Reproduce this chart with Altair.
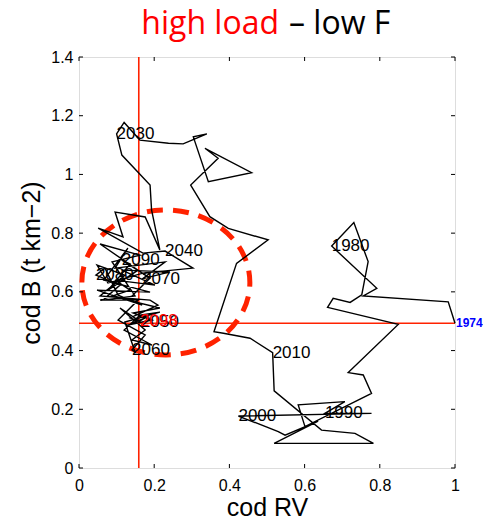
import altair as alt
import pandas as pd

# trajectory (cod RV, cod B), 1974 -> 2098
path_x = [1.0, 0.982, 0.756, 0.792, 0.672, 0.731, 0.769, 0.752, 0.721, 0.676,
          0.661, 0.849, 0.716, 0.756, 0.778, 0.601, 0.583, 0.707, 0.654, 0.778,
          0.424, 0.530, 0.548, 0.636, 0.519, 0.783, 0.734, 0.645, 0.519, 0.515,
          0.455, 0.384, 0.359, 0.419, 0.503, 0.397, 0.348, 0.297, 0.370, 0.335,
          0.459, 0.344, 0.304, 0.340, 0.277, 0.238, 0.162, 0.120, 0.100, 0.114,
          0.189, 0.193, 0.215, 0.176, 0.096, 0.117, 0.051, 0.170, 0.229, 0.303,
          0.170, 0.077, 0.048, 0.122, 0.056, 0.189, 0.210, 0.136, 0.165, 0.109,
          0.176, 0.141, 0.194, 0.120, 0.162, 0.215, 0.122, 0.149, 0.141, 0.176,
          0.104, 0.157, 0.056, 0.136, 0.096, 0.202, 0.114, 0.242, 0.168, 0.229,
          0.096, 0.130, 0.066, 0.189, 0.048, 0.168, 0.104, 0.069, 0.045, 0.109,
          0.064, 0.149, 0.088, 0.162, 0.056, 0.157, 0.077, 0.136, 0.114, 0.189,
          0.130, 0.215, 0.144, 0.194, 0.130, 0.176, 0.162]
path_y = [0.493, 0.566, 0.586, 0.612, 0.756, 0.836, 0.703, 0.590, 0.564, 0.578,
          0.547, 0.489, 0.325, 0.317, 0.254, 0.141, 0.215, 0.226, 0.186, 0.186,
          0.177, 0.124, 0.112, 0.160, 0.084, 0.084, 0.118, 0.129, 0.263, 0.393,
          0.442, 0.459, 0.464, 0.697, 0.777, 0.816, 0.856, 0.964, 1.055, 1.089,
          1.006, 0.975, 1.128, 1.138, 1.104, 1.106, 1.117, 1.177, 1.138, 1.066,
          0.964, 0.879, 0.743, 0.855, 0.872, 0.787, 0.817, 0.732, 0.739, 0.681,
          0.664, 0.630, 0.691, 0.657, 0.586, 0.572, 0.555, 0.511, 0.497, 0.545,
          0.470, 0.436, 0.419, 0.470, 0.521, 0.531, 0.497, 0.395, 0.402, 0.453,
          0.504, 0.572, 0.572, 0.606, 0.640, 0.623, 0.674, 0.668, 0.644, 0.702,
          0.681, 0.749, 0.640, 0.599, 0.606, 0.555, 0.589, 0.681, 0.657, 0.623,
          0.572, 0.586, 0.702, 0.725, 0.763, 0.674, 0.606, 0.695, 0.708, 0.647,
          0.572, 0.545, 0.528, 0.504, 0.487, 0.511, 0.501]

# decade labels
label_text = ["1980", "1990", "2000", "2010", "2030", "2040", "2050",
              "2060", "2070", "2080", "2090"]
label_x = [0.672, 0.654, 0.424, 0.515, 0.100, 0.229, 0.165, 0.141, 0.168, 0.045, 0.114]
label_y = [0.756, 0.186, 0.177, 0.393, 1.138, 0.739, 0.497, 0.402, 0.644, 0.657, 0.708]

start_label = ["1974"]
start_x = [1.0]
start_y = [0.493]
end_label = ["2098"]
end_x = [0.162]
end_y = [0.501]

# reference lines and highlighted region
ref_x = [0.159]
ref_y = [0.493]
circle_cx = [0.231]
circle_cy = [0.632]

x_ticks = [0, 0.2, 0.4, 0.6, 0.8, 1]
y_ticks = [0, 0.2, 0.4, 0.6, 0.8, 1, 1.2, 1.4]

FONT = "Liberation Sans"
RED = "#ff2200"

path_df = pd.DataFrame({"x": path_x, "y": path_y, "o": list(range(len(path_x)))})
lab_df = pd.DataFrame({"x": label_x, "y": label_y, "t": label_text})
start_df = pd.DataFrame({"x": start_x, "y": start_y, "t": start_label})
end_df = pd.DataFrame({"x": end_x, "y": end_y, "t": end_label})

xs = alt.Scale(domain=[0, 1], nice=False, zero=False)
ys = alt.Scale(domain=[0, 1.4], nice=False, zero=False)

x_axis = alt.Axis(values=x_ticks, format="~g", title="cod RV", ticks=False, grid=False,
                  domain=False, labelFont=FONT, labelFontSize=16, labelPadding=9,
                  labelFlush=False, labelColor="black", titleFont=FONT, titleFontSize=25,
                  titleFontWeight="normal", titleColor="black", titleBaseline="alphabetic",
                  titlePadding=22)
y_axis = alt.Axis(values=y_ticks, format="~g", title="cod B (t km\u22122)", ticks=False,
                  grid=False, domain=False, labelFont=FONT, labelFontSize=16, labelPadding=6,
                  labelFlush=False, labelColor="black", titleFont=FONT, titleFontSize=25,
                  titleFontWeight="normal", titleColor="black", titlePadding=6)

line = alt.Chart(path_df).mark_line(color="black", strokeWidth=1.4).encode(
    x=alt.X("x:Q", scale=xs, axis=x_axis),
    y=alt.Y("y:Q", scale=ys, axis=y_axis),
    order="o:Q",
)

# inward tick marks on all four sides of the box
tlx = 0.0106
tly = 0.0136
bt = pd.DataFrame({"x": x_ticks, "y0": [0] * len(x_ticks), "y1": [tly] * len(x_ticks)})
tt = pd.DataFrame({"x": x_ticks, "y0": [1.4] * len(x_ticks), "y1": [1.4 - tly] * len(x_ticks)})
lt = pd.DataFrame({"y": y_ticks, "x0": [0] * len(y_ticks), "x1": [tlx] * len(y_ticks)})
rt = pd.DataFrame({"y": y_ticks, "x0": [1] * len(y_ticks), "x1": [1 - tlx] * len(y_ticks)})
tick_b = alt.Chart(pd.concat([bt, tt])).mark_rule(color="black", strokeWidth=1).encode(
    x=alt.X("x:Q", scale=xs), y=alt.Y("y0:Q", scale=ys), y2="y1:Q")
tick_l = alt.Chart(pd.concat([lt, rt])).mark_rule(color="black", strokeWidth=1).encode(
    y=alt.Y("y:Q", scale=ys), x=alt.X("x0:Q", scale=xs), x2="x1:Q")

vrule = alt.Chart(pd.DataFrame({"x": ref_x})).mark_rule(color=RED, strokeWidth=1.6).encode(
    x=alt.X("x:Q", scale=xs))
hrule = alt.Chart(pd.DataFrame({"y": ref_y})).mark_rule(color=RED, strokeWidth=1.6).encode(
    y=alt.Y("y:Q", scale=ys))

k = 0.863
c = 0.5523
ellipse_path = (f"M -1 0 C -1 {-c*k:.4f} {-c:.4f} {-k} 0 {-k} "
                f"C {c:.4f} {-k} 1 {-c*k:.4f} 1 0 "
                f"C 1 {c*k:.4f} {c:.4f} {k} 0 {k} "
                f"C {-c:.4f} {k} -1 {c*k:.4f} -1 0 Z")
circle = alt.Chart(pd.DataFrame({"x": circle_cx, "y": circle_cy})).mark_point(
    shape=ellipse_path, filled=False, size=28224, stroke=RED, strokeWidth=5,
    strokeDash=[16, 10], opacity=1
).encode(x=alt.X("x:Q", scale=xs), y=alt.Y("y:Q", scale=ys))

labels = alt.Chart(lab_df).mark_text(align="left", baseline="middle", font=FONT,
                                     fontSize=17, color="black").encode(
    x=alt.X("x:Q", scale=xs), y=alt.Y("y:Q", scale=ys), text="t:N")
start_t = alt.Chart(start_df).mark_text(align="left", baseline="middle", font=FONT,
                                        fontSize=12, fontWeight="bold", color="#0000ff", dx=1).encode(
    x=alt.X("x:Q", scale=xs), y=alt.Y("y:Q", scale=ys), text="t:N")
end_t = alt.Chart(end_df).mark_text(align="left", baseline="middle", font=FONT,
                                    fontSize=17, color="#ff0000").encode(
    x=alt.X("x:Q", scale=xs), y=alt.Y("y:Q", scale=ys), text="t:N")

title_red = alt.Chart(pd.DataFrame({"t": ["high load"]})).mark_text(
    align="right", baseline="alphabetic", font="Open Sans", fontSize=32, color="#ff0000"
).encode(x=alt.value(200), y=alt.value(-23), text="t:N")
title_black = alt.Chart(pd.DataFrame({"t": ["\u2013 low F"]})).mark_text(
    align="left", baseline="alphabetic", font="Open Sans", fontSize=32, color="black"
).encode(x=alt.value(210), y=alt.value(-23), text="t:N")

chart = alt.layer(
    circle, vrule, hrule, line, tick_b, tick_l, labels, end_t, start_t, title_red, title_black
).properties(
    width=376, height=411,
    autosize=alt.AutoSizeParams(type="none"),
    padding={"left": 71, "top": 49, "right": 28, "bottom": 50},
).configure_view(stroke="black", strokeWidth=1.5).configure(background="white")

chart.save("out.html", embed_options={"renderer": "svg", "actions": False})
